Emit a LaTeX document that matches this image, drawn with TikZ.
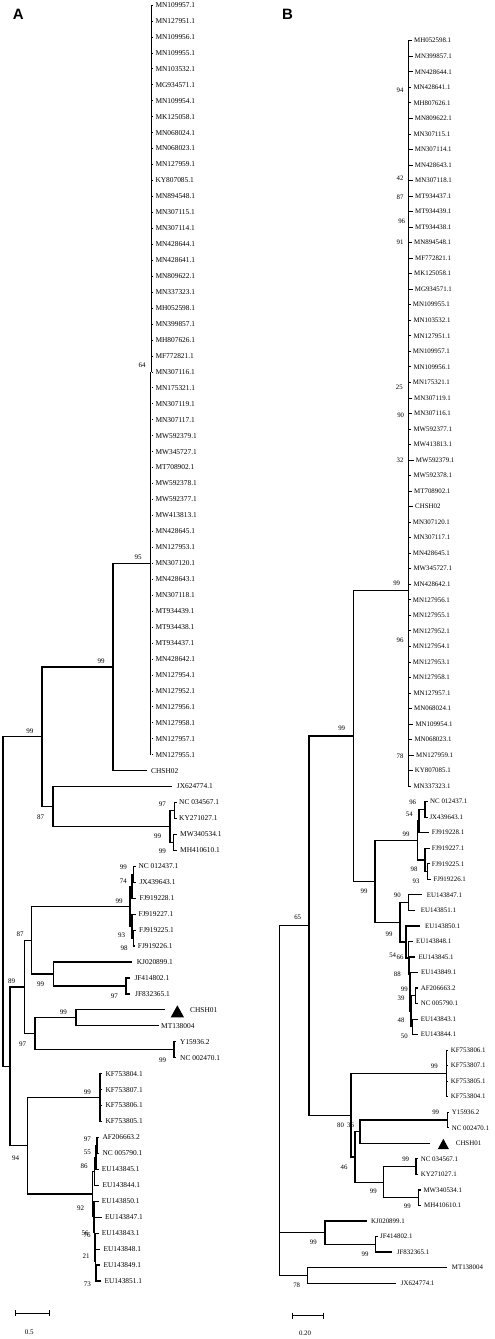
\documentclass[tikz,border=0pt]{standalone}
\usepackage{fontspec}
\setmainfont{Liberation Serif}
\newfontfamily\panelfont{Liberation Sans}
\newcommand{\lA}[5]{\coordinate (#1) at (#2,#3); \node[labA] (#1t) at (#4,#3) {#5};}
\newcommand{\lB}[5]{\coordinate (#1) at (#2,#3); \node[labB] (#1t) at (#4,#3) {#5};}
\begin{document}
\begin{tikzpicture}[x=1pt,y=-1pt,
  br/.style={line width=1.2pt},
  thk/.style={line width=1.9pt},
  stub/.style={line width=0.7pt},
  labA/.style={anchor=west,inner sep=0pt,font=\fontsize{7.4}{8}\selectfont},
  labB/.style={anchor=west,inner sep=0pt,font=\fontsize{6.9}{8}\selectfont},
  bsA/.style={inner sep=0pt,font=\fontsize{7}{8}\selectfont},
  bsB/.style={inner sep=0pt,font=\fontsize{6.8}{8}\selectfont},
  panel/.style={inner sep=0pt,font=\panelfont\bfseries\fontsize{15}{16}\selectfont}]
\useasboundingbox (0,0) rectangle (495,1339);

% ================= Panel A =================
\node[panel] (pA) at (18.3,14.7) {A};

% big clade
\coordinate (Abt) at (151.5,4.5);
\coordinate (Abm) at (151.5,372);
\coordinate (Abm2) at (150.5,372);
\coordinate (Abb) at (150.5,755);
\draw[thk] (Abt) -- (Abm);
\draw[thk] (Abm2) -- (Abb);
\foreach \t [count=\i] in {MN109957.1,MN127951.1,MN109956.1,MN109955.1,MN103532.1,MG934571.1,MN109954.1,MK125058.1,MN068024.1,MN068023.1,MN127959.1,KY807085.1,MN894548.1,MN307115.1,MN307114.1,MN428644.1,MN428641.1,MN809622.1,MN337323.1,MH052598.1,MN399857.1,MH807626.1,MF772821.1,MN307116.1,MN175321.1,MN307119.1,MN307117.1,MW592379.1,MW345727.1,MT708902.1,MW592378.1,MW592377.1,MW413813.1,MN428645.1,MN127953.1,MN307120.1,MN428643.1,MN307118.1,MT934439.1,MT934438.1,MT934437.1,MN428642.1,MN127954.1,MN127952.1,MN127956.1,MN127958.1,MN127957.1,MN127955.1}{
  \pgfmathsetmacro\yy{5+(\i-1)*15.95}
  \coordinate (a\i) at (151.5,\yy);
  \coordinate (a\i e) at (153.3,\yy);
  \draw[stub] (a\i) -- (a\i e);
  \node[labA] (a\i t) at (155.3,\yy) {\t};
}
\coordinate (Abig) at (150.5,563.3);

% leaves
\lA{a49}{147}{770.6}{151}{CHSH02}
\lA{a50}{172}{786.55}{176.7}{JX624774.1}
\lA{a51}{176.5}{802.5}{179}{NC 034567.1}
\lA{a52}{176.5}{818.45}{179}{KY271027.1}
\lA{a53}{177}{834.4}{180}{MW340534.1}
\lA{a54}{177}{850.35}{180}{MH410610.1}
\lA{a55}{135.5}{866.3}{138.3}{NC 012437.1}
\lA{a56}{136}{882.25}{139.3}{JX439643.1}
\lA{a57}{136}{898.2}{139.3}{FJ919228.1}
\lA{a58}{135.5}{914.15}{138.3}{FJ919227.1}
\lA{a59}{136}{930.1}{139}{FJ919225.1}
\lA{a60}{135}{946.05}{137.7}{FJ919226.1}
\lA{a61}{131.7}{962}{136.7}{KJ020899.1}
\lA{a62}{130}{977.95}{134.3}{JF414802.1}
\lA{a63}{130}{993.9}{135}{JF832365.1}
\lA{a64}{165}{1009.85}{190}{CHSH01}
\lA{a65}{159.3}{1025.8}{161}{MT138004}
\lA{a66}{176}{1041.75}{180}{Y15936.2}
\lA{a67}{176}{1057.7}{180}{NC 002470.1}
\lA{a68}{102}{1073.65}{105.3}{KF753804.1}
\lA{a69}{102}{1089.6}{105.3}{KF753807.1}
\lA{a70}{102}{1105.55}{105.3}{KF753806.1}
\lA{a71}{102}{1121.5}{105.3}{KF753805.1}
\lA{a72}{99.3}{1137.45}{102.3}{AF206663.2}
\lA{a73}{99.3}{1153.4}{102.3}{NC 005790.1}
\lA{a74}{98.7}{1169.35}{101.7}{EU143845.1}
\lA{a75}{99.3}{1185.3}{102.3}{EU143844.1}
\lA{a76}{98.7}{1201.25}{101.7}{EU143850.1}
\lA{a77}{102}{1217.2}{105}{EU143847.1}
\lA{a78}{98.7}{1233.15}{101.7}{EU143843.1}
\lA{a79}{100.3}{1249.1}{103.3}{EU143848.1}
\lA{a80}{100.3}{1265.05}{103.3}{EU143849.1}
\lA{a81}{101.3}{1281}{104.3}{EU143851.1}

% internal nodes A
\coordinate (Aroot) at (3,901.6);
\coordinate (A1) at (42,736.7);
\coordinate (A95) at (113,666.95);
\coordinate (A87) at (53,806.5);
\coordinate (Acl) at (170,826.45);
\coordinate (Anc) at (174.5,810.5);
\coordinate (Amw) at (173.5,842.4);
\coordinate (Alow) at (10,1066.35);
\coordinate (A89) at (24.3,986.9);
\coordinate (A87b) at (31.7,940.1);
\coordinate (AFJ) at (130,906.2);
\coordinate (Afa) at (133.5,874.3);
\coordinate (Afb) at (132,886.25);
\coordinate (Afc) at (132,926.1);
\coordinate (Afd) at (133.5,938.1);
\coordinate (Akj) at (53.3,973.95);
\coordinate (Ajf) at (126,985.9);
\coordinate (A97) at (35,1033.75);
\coordinate (Ach) at (76,1017.8);
\coordinate (Ay) at (174,1049.7);
\coordinate (A94) at (27.7,1145.8);
\coordinate (Akf) at (100,1097.6);
\coordinate (Aeu) at (92.7,1194.0);
\coordinate (Ae1) at (97,1145.4);
\coordinate (Ae2) at (96,1157.4);
\coordinate (Ae3) at (94.5,1171.35);
\coordinate (Ae4) at (94,1216.7);
\coordinate (Ae5) at (94.5,1232.15);
\coordinate (Ae6) at (95,1247.1);
\coordinate (Ae7) at (95.5,1261.05);
\coordinate (Ae8) at (96,1273.0);

\draw[br] (Aroot) |- (A1);  \draw[br] (Aroot) |- (Alow);
\draw[br] (A1) |- (A95);    \draw[br] (A1) |- (A87);
\draw[br] (A95) |- (Abig);  \draw[br] (A95) |- (a49);
\draw[br] (A87) |- (a50);   \draw[br] (A87) |- (Acl);
\draw[br] (Acl) |- (Anc);   \draw[br] (Acl) |- (Amw);
\draw[br] (Anc) |- (a51);   \draw[br] (Anc) |- (a52);
\draw[br] (Amw) |- (a53);   \draw[br] (Amw) |- (a54);
\draw[br] (Alow) |- (A89);  \draw[br] (Alow) |- (A94);
\draw[br] (A89) |- (A87b);  \draw[br] (A89) |- (A97);
\draw[br] (A87b) |- (AFJ);  \draw[br] (A87b) |- (Akj);
\draw[br] (AFJ) |- (Afb);   \draw[br] (AFJ) |- (Afc);
\draw[br] (Afb) |- (Afa);   \draw[br] (Afb) |- (a57);
\draw[br] (Afa) |- (a55);   \draw[br] (Afa) |- (a56);
\draw[br] (Afc) |- (a58);   \draw[br] (Afc) |- (Afd);
\draw[br] (Afd) |- (a59);   \draw[br] (Afd) |- (a60);
\draw[br] (Akj) |- (a61);   \draw[br] (Akj) |- (Ajf);
\draw[br] (Ajf) |- (a62);   \draw[br] (Ajf) |- (a63);
\draw[br] (A97) |- (Ach);   \draw[br] (A97) |- (Ay);
\draw[br] (Ach) |- (a64);   \draw[br] (Ach) |- (a65);
\draw[br] (Ay) |- (a66);    \draw[br] (Ay) |- (a67);
\draw[br] (A94) |- (Akf);   \draw[br] (A94) |- (Aeu);
\foreach \k in {68,69,70,71} \draw[br] (Akf) |- (a\k);
\draw[br] (Aeu) |- (Ae3);   \draw[br] (Aeu) |- (Ae4);
\draw[br] (Ae3) |- (Ae2);   \draw[br] (Ae3) |- (a75);
\draw[br] (Ae2) |- (Ae1);   \draw[br] (Ae2) |- (a74);
\draw[br] (Ae1) |- (a72);   \draw[br] (Ae1) |- (a73);
\draw[br] (Ae4) |- (a76);   \draw[br] (Ae4) |- (Ae5);
\draw[br] (Ae5) |- (a77);   \draw[br] (Ae5) |- (Ae6);
\draw[br] (Ae6) |- (a78);   \draw[br] (Ae6) |- (Ae7);
\draw[br] (Ae7) |- (a79);   \draw[br] (Ae7) |- (Ae8);
\draw[br] (Ae8) |- (a80);   \draw[br] (Ae8) |- (a81);

% triangle marker A
\fill (170.7,1017.3) -- (184,1017.3) -- (177.35,1005.3) -- cycle;

% bootstrap A
\foreach \px/\py/\t [count=\k] in {142/365/64,138/557/95,101/661/99,30/731/99,40.7/816.7/87,162.3/804.3/97,157.7/836.7/99,162.3/851.7/99,123.3/867.7/99,123.3/881/74,119/901/99,20/934.3/87,121.7/935.7/93,124/948.3/98,11.7/981/89,40.7/984.3/99,114.3/996.7/97,63.3/1012.3/99,22.7/1044/97,162.7/1060.7/99,87.3/1092.3/99,87.3/1139.7/97,87.3/1152.7/55,84/1166/86,15.7/1158.3/94,80.7/1208.3/92,85/1233.5/56,87/1235/76,86/1256/21,87.3/1284.3/73}
  \node[bsA] (bsa\k) at (\px,\py) {\t};

% scale bar A
\coordinate (sA1) at (15,1313.3);
\coordinate (sA2) at (49,1313.3);
\draw[line width=1pt] (sA1) -- (sA2);
\draw[line width=1pt] ([yshift=3pt]sA1) -- ([yshift=-3pt]sA1);
\draw[line width=1pt] ([yshift=3pt]sA2) -- ([yshift=-3pt]sA2);
\node[bsA] (sAt) at (29.3,1332) {0.5};

% ================= Panel B =================
\node[panel] (pB) at (287.5,14.2) {B};

\coordinate (Bbt) at (408.3,40.2);
\coordinate (Bbb) at (408.3,786.6);
\draw[line width=1.6pt] (Bbt) -- (Bbb);
\foreach \t/\lx [count=\i] in {MH052598.1/414,MN399857.1/414.7,MN428644.1/414.7,MN428641.1/413.3,MH807626.1/413.3,MN809622.1/414.7,MN307115.1/413.3,MN307114.1/414.7,MN428643.1/414.7,MN307118.1/415,MT934437.1/415,MT934439.1/415,MT934438.1/415,MN894548.1/414,MF772821.1/415,MK125058.1/414,MG934571.1/414.7,MN109955.1/412.7,MN103532.1/413.3,MN127951.1/413.3,MN109957.1/412.7,MN109956.1/413.3,MN175321.1/412.7,MN307119.1/414,MN307116.1/414,MW592377.1/413.3,MW413813.1/413.3,MW592379.1/415.7,MW592378.1/413.3,MT708902.1/414,CHSH02/415,MN307120.1/412.7,MN307117.1/413.3,MN428645.1/412.7,MW345727.1/413.3,MN428642.1/413.3,MN127956.1/412.7,MN127955.1/412.7,MN127952.1/412.7,MN127954.1/412.7,MN127953.1/412.7,MN127958.1/412.7,MN127957.1/413.3,MN068024.1/414,MN109954.1/415.3,MN068023.1/414.3,MN127959.1/416,KY807085.1/414.7,MN337323.1/413.3}{
  \pgfmathsetmacro\yy{40.7+(\i-1)*15.53}
  \pgfmathsetmacro\ex{\lx-2.2}
  \coordinate (b\i) at (408.3,\yy);
  \coordinate (b\i e) at (\ex,\yy);
  \draw[stub] (b\i) -- (b\i e);
  \node[labB] (b\i t) at (\lx,\yy) {\t};
}
\coordinate (Bbig) at (408.3,590.7);

\lB{b50}{428}{801.67}{430}{NC 012437.1}
\lB{b51}{427.5}{817.2}{429.3}{JX439643.1}
\lB{b52}{428.5}{832.73}{431.7}{FJ919228.1}
\lB{b53}{429.5}{848.26}{431.7}{FJ919227.1}
\lB{b54}{430}{863.79}{431.7}{FJ919225.1}
\lB{b55}{431}{879.32}{433.3}{FJ919226.1}
\lB{b56}{421.7}{894.85}{426.7}{EU143847.1}
\lB{b57}{415}{910.38}{420.7}{EU143851.1}
\lB{b58}{420}{925.91}{425}{EU143850.1}
\lB{b59}{412.5}{941.44}{416}{EU143848.1}
\lB{b60}{415}{956.97}{418.3}{EU143845.1}
\lB{b61}{418}{972.5}{421}{EU143849.1}
\lB{b62}{418}{988.03}{420.7}{AF206663.2}
\lB{b63}{418}{1003.56}{420.7}{NC 005790.1}
\lB{b64}{418}{1019.09}{420.7}{EU143843.1}
\lB{b65}{418}{1034.62}{420.7}{EU143844.1}
\lB{b66}{448}{1050.15}{450.7}{KF753806.1}
\lB{b67}{448}{1065.68}{450.7}{KF753807.1}
\lB{b68}{448}{1081.21}{450.7}{KF753805.1}
\lB{b69}{448}{1096.74}{450.7}{KF753804.1}
\lB{b70}{449}{1112.27}{451.7}{Y15936.2}
\lB{b71}{449}{1127.8}{451.7}{NC 002470.1}
\lB{b72}{430}{1143.33}{455.7}{CHSH01}
\lB{b73}{418}{1158.86}{420.7}{NC 034567.1}
\lB{b74}{418}{1174.39}{420.7}{KY271027.1}
\lB{b75}{421}{1189.92}{423.3}{MW340534.1}
\lB{b76}{421}{1205.45}{424}{MH410610.1}
\lB{b77}{366.7}{1220.98}{371}{KJ020899.1}
\lB{b78}{378.3}{1236.51}{380}{JF414802.1}
\lB{b79}{391.7}{1252.04}{396.7}{JF832365.1}
\lB{b80}{447.3}{1267.57}{451.7}{MT138004}
\lB{b81}{396}{1283.1}{400.7}{JX624774.1}

\coordinate (Broot) at (279.3,1100);
\coordinate (B65) at (309,925.6);
\coordinate (B99) at (353.3,736.05);
\coordinate (BFE) at (375,881.4);
\coordinate (BFJ) at (417.3,840.5);
\coordinate (Bf1) at (425,809.44);
\coordinate (Bf2) at (419,821.08);
\coordinate (Bf3) at (427.7,871.56);
\coordinate (Bf4) at (425,859.91);
\coordinate (BEU) at (400,922.25);
\coordinate (Bu1) at (408.3,902.6);
\coordinate (Bu2) at (406,941.9);
\coordinate (Bu3) at (408.3,957.9);
\coordinate (Bua) at (409.5,974.4);
\coordinate (Bub) at (410,991.9);
\coordinate (Buc) at (411,1011.33);
\coordinate (Bau) at (415.7,995.8);
\coordinate (B43) at (412.7,1026.86);
\coordinate (B80) at (351,1115.2);
\coordinate (BKF) at (446.7,1073.45);
\coordinate (B46) at (355,1156.9);
\coordinate (B36) at (360,1131.7);
\coordinate (BY) at (447.3,1120.0);
\coordinate (BNC) at (383.3,1182.15);
\coordinate (Bnc) at (416,1166.6);
\coordinate (Bmw) at (418.3,1197.7);
\coordinate (Bkj) at (325,1232.6);
\coordinate (Bjf) at (375.7,1244.3);
\coordinate (Bmt) at (307.7,1275.3);

\draw[br] (Broot) |- (B65); \draw[br] (Broot) |- (Bkj); \draw[br] (Broot) |- (Bmt);
\draw[br] (B65) |- (B99);   \draw[br] (B65) |- (B80);
\draw[br] (B99) |- (Bbig);  \draw[br] (B99) |- (BFE);
\draw[br] (BFE) |- (BFJ);   \draw[br] (BFE) |- (BEU);
\draw[br] (BFJ) |- (Bf2);   \draw[br] (BFJ) |- (Bf4);
\draw[br] (Bf2) |- (Bf1);   \draw[br] (Bf2) |- (b52);
\draw[br] (Bf1) |- (b50);   \draw[br] (Bf1) |- (b51);
\draw[br] (Bf4) |- (b53);   \draw[br] (Bf4) |- (Bf3);
\draw[br] (Bf3) |- (b54);   \draw[br] (Bf3) |- (b55);
\draw[br] (BEU) |- (Bu1);   \draw[br] (BEU) |- (Bu2);
\draw[br] (Bu1) |- (b56);   \draw[br] (Bu1) |- (b57);
\draw[br] (Bu2) |- (b58);   \draw[br] (Bu2) |- (Bu3);
\draw[br] (Bu3) |- (b59);   \draw[br] (Bu3) |- (Bua);
\draw[br] (Bua) |- (b60);   \draw[br] (Bua) |- (Bub);
\draw[br] (Bub) |- (b61);   \draw[br] (Bub) |- (Buc);
\draw[br] (Buc) |- (Bau);   \draw[br] (Buc) |- (B43);
\draw[br] (Bau) |- (b62);   \draw[br] (Bau) |- (b63);
\draw[br] (B43) |- (b64);   \draw[br] (B43) |- (b65);
\draw[br] (B80) |- (BKF);   \draw[br] (B80) |- (B46);
\foreach \k in {66,67,68,69} \draw[br] (BKF) |- (b\k);
\draw[br] (B46) |- (B36);   \draw[br] (B46) |- (BNC);
\draw[br] (B36) |- (BY);    \draw[br] (B36) |- (b72);
\draw[br] (BY) |- (b70);    \draw[br] (BY) |- (b71);
\draw[br] (BNC) |- (Bnc);   \draw[br] (BNC) |- (Bmw);
\draw[br] (Bnc) |- (b73);   \draw[br] (Bnc) |- (b74);
\draw[br] (Bmw) |- (b75);   \draw[br] (Bmw) |- (b76);
\draw[br] (Bkj) |- (b77);   \draw[br] (Bkj) |- (Bjf);
\draw[br] (Bjf) |- (b78);   \draw[br] (Bjf) |- (b79);
\draw[br] (Bmt) |- (b80);   \draw[br] (Bmt) |- (b81);

% triangle marker B
\fill (437.7,1149.2) -- (449,1149.2) -- (443.35,1138.8) -- cycle;

% bootstrap B
\foreach \px/\py/\t [count=\k] in {400/90/94,400/178.3/42,400/197.7/87,401.7/221/96,400/242.3/91,399.3/387.3/25,400.7/415/90,400/460.7/32,396.7/583.3/99,400/640.7/96,400/756.7/78,341.7/728.3/99,412.7/802.3/96,409.3/814.3/54,406/834/99,414/869/98,416/881.7/93,364/891.7/99,397.3/895.7/90,297.7/917.7/65,389/934/99,392.7/955/54,400/957.3/66,397.3/974/88,404.3/989/99,401/998.3/39,401/1020.7/48,404.3/1036/50,434.3/1066/99,435.7/1112.3/99,340.5/1125/80,350.5/1125/36,344/1167.3/46,405.7/1159.3/99,373.3/1191.7/99,407.3/1206.7/99,313.3/1242.3/99,365/1254.3/99,296.7/1285/78}
  \node[bsB] (bsb\k) at (\px,\py) {\t};

% scale bar B
\coordinate (sB1) at (292.3,1315.7);
\coordinate (sB2) at (323.3,1315.7);
\draw[line width=1pt] (sB1) -- (sB2);
\draw[line width=1pt] ([yshift=3pt]sB1) -- ([yshift=-3pt]sB1);
\draw[line width=1pt] ([yshift=3pt]sB2) -- ([yshift=-3pt]sB2);
\node[bsB] (sBt) at (305,1333.3) {0.20};
\end{tikzpicture}
\end{document}
